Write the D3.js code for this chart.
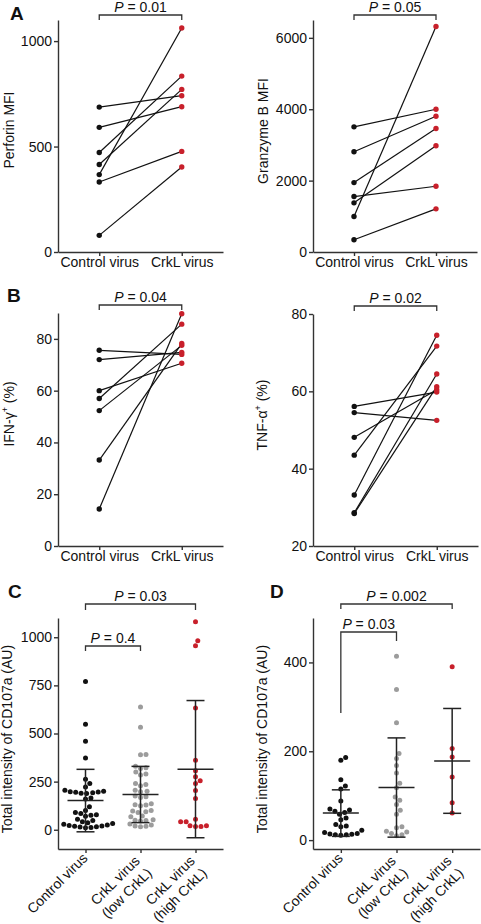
<!DOCTYPE html>
<html><head><meta charset="utf-8">
<script src="https://cdn.jsdelivr.net/npm/d3@7"></script>
<style>
body{margin:0;background:#fff;}
svg{display:block;font-family:"Liberation Sans",Arial,Helvetica,sans-serif;}
</style></head><body>
<svg id="chart" width="481" height="924"></svg>
<script>
// ---------- data ----------
const pairedCategories = ["Control virus", "CrkL virus"];
const perforinControl = [687, 591, 472, 415, 367, 332, 79];
const perforinCrkL    = [741, 689, 834, 771, 1062, 477, 403];
const granzymeControl = [3507, 2809, 1944, 1553, 1377, 995, 344];
const granzymeCrkL    = [4000, 3805, 3460, 1842, 2977, 6316, 1209];
const ifnControl = [75.6, 72.0, 60.0, 57.0, 52.3, 33.2, 14.3];
const ifnCrkL    = [74.0, 74.8, 70.6, 85.7, 77.5, 78.2, 89.7];
const tnfControl = [56.1, 54.5, 48.1, 43.5, 33.2, 28.6, 28.4];
const tnfCrkL    = [59.8, 52.5, 60.4, 71.7, 74.5, 64.5, 61.2];

const groupCategories = ["Control virus", "CrkL virus\n(low CrkL)", "CrkL virus\n(high CrkL)"];
const cControl = [770, 548, 460, 373, 262, 240, 222, 205, 200, 198, 196, 195, 192, 190, 188, 165, 160, 120, 100, 90, 85, 78, 75, 70, 55, 48, 42, 36, 32, 28, 25, 22, 20, 18, 16, 14, 12, 10];
const cLow = [638, 533, 391, 389, 330, 322, 318, 300, 290, 285, 240, 235, 228, 205, 200, 198, 175, 172, 168, 135, 130, 128, 125, 100, 97, 94, 90, 72, 68, 52, 50, 48, 45, 30, 25, 20, 18, 15];
const cHigh = [1080, 982, 956, 633, 361, 306, 275, 255, 240, 204, 162, 55, 41, 21, 17, 17, 21, 41];
const dControl = [186, 180, 136, 122, 115, 88, 70, 68, 65, 62, 58, 50, 46, 35, 32, 30, 22, 17, 15, 14, 13, 12, 12, 11];
const dLow = [414, 339, 264, 195, 184, 168, 151, 128, 118, 97, 90, 80, 67, 58, 30, 28, 20, 18, 15, 12, 10];
const dHigh = [390, 206, 187, 142, 84, 61];

const perforinTicks = [0, 500, 1000];
const granzymeTicks = [0, 2000, 4000, 6000];
const ifnTicks = [0, 20, 40, 60, 80];
const tnfTicks = [20, 40, 60, 80];
const cTicks = [0, 250, 500, 750, 1000];
const dTicks = [0, 200, 400];

// ---------- styling ----------
const BLACK = "#111", RED = "#c8202b", GRAY = "#9c9c9c", AXIS = "#333";
const FS = 14;
const svg = d3.select("#chart");

function styleAxis(g) {
  g.attr("font-family", null).attr("font-size", FS);
  g.select(".domain").attr("stroke", AXIS).attr("stroke-width", 1.4);
  g.selectAll(".tick line").attr("stroke", AXIS).attr("stroke-width", 1.4);
  g.selectAll(".tick text").attr("fill", BLACK).attr("font-size", FS);
}

function yTitle(x, y, parts) {
  const t = svg.append("text").attr("transform", `translate(${x},${y}) rotate(-90)`)
    .attr("text-anchor", "middle").attr("fill", BLACK).attr("font-size", FS);
  parts.forEach(p => {
    const s = t.append("tspan").text(p.t);
    if (p.sup) s.attr("font-size", 9).attr("dy", -6);
    if (p.after) s.attr("dy", 6);
  });
}

function pLabel(cx, baseline, val) {
  const t = svg.append("text").attr("x", cx).attr("y", baseline).attr("text-anchor", "middle")
    .attr("fill", BLACK).attr("font-size", FS);
  t.append("tspan").attr("font-style", "italic").text("P");
  t.append("tspan").text(" = " + val);
}

function bracket(x1, x2, top, leg1, leg2) {
  svg.append("path").attr("d", `M${x1},${leg1}V${top}H${x2}V${leg2}`)
    .attr("fill", "none").attr("stroke", AXIS).attr("stroke-width", 1.3);
}

function panelLetter(x, y, l) {
  svg.append("text").attr("x", x).attr("y", y).attr("fill", BLACK)
    .attr("font-size", 19).attr("font-weight", "bold").text(l);
}

const fmt = d3.format("d");

function pairedPanel(o) {
  const x = d3.scalePoint().domain(pairedCategories).range(o.xr).padding(0.5);
  const y = d3.scaleLinear().domain(o.domain).range(o.yr);
  const gy = svg.append("g").attr("transform", `translate(${o.xr[0]},0)`)
    .call(d3.axisLeft(y).tickValues(o.ticks).tickFormat(fmt).tickSize(4).tickPadding(2).tickSizeOuter(0));
  styleAxis(gy);
  const gx = svg.append("g").attr("transform", `translate(0,${o.yr[0]})`)
    .call(d3.axisBottom(x).tickSize(4).tickPadding(1).tickSizeOuter(0));
  styleAxis(gx);
  const x0 = x(pairedCategories[0]), x1 = x(pairedCategories[1]);
  o.ctrl.forEach((v, i) => {
    svg.append("line").attr("x1", x0).attr("y1", y(v)).attr("x2", x1).attr("y2", y(o.crkl[i]))
      .attr("stroke", BLACK).attr("stroke-width", 1.2);
  });
  svg.append("g").selectAll("circle").data(o.ctrl).join("circle")
    .attr("cx", x0).attr("cy", d => y(d)).attr("r", 2.7).attr("fill", BLACK);
  svg.append("g").selectAll("circle").data(o.crkl).join("circle")
    .attr("cx", x1).attr("cy", d => y(d)).attr("r", 2.7).attr("fill", RED);
  bracket(x0, x1, o.bTop, o.bTop + 5, o.bTop + 5);
  pLabel((x0 + x1) / 2, o.bTop - 3, o.p);
  yTitle(o.tx, o.ty, o.title);
}

function swarm(values, y, r) {
  const D = 2 * r + 0.5;
  const pts = values.map(v => ({ v, y: y(v) })).sort((a, b) => b.y - a.y);
  const placed = [];
  for (const p of pts) {
    const cands = [0];
    for (const q of placed) {
      const dy = Math.abs(q.y - p.y);
      if (dy < D) { const dx = Math.sqrt(D * D - dy * dy); cands.push(q.dx + dx, q.dx - dx); }
    }
    cands.sort((a, b) => Math.abs(a) - Math.abs(b));
    for (const c of cands) {
      if (placed.every(q => (q.dx - c) ** 2 + (q.y - p.y) ** 2 >= D * D - 1e-6)) { p.dx = c; break; }
    }
    placed.push(p);
  }
  return placed;
}

function groupPanel(o) {
  const x = d3.scalePoint().domain(groupCategories).range(o.xr).padding(0.5);
  const y = d3.scaleLinear().domain(o.domain).range(o.yr);
  const gy = svg.append("g").attr("transform", `translate(${o.xr[0]},0)`)
    .call(d3.axisLeft(y).tickValues(o.ticks).tickFormat(fmt).tickSize(4).tickPadding(2).tickSizeOuter(0));
  styleAxis(gy);
  const gx = svg.append("g").attr("transform", `translate(0,${o.yr[0]})`)
    .call(d3.axisBottom(x).tickSize(4).tickFormat(() => "").tickSizeOuter(0));
  styleAxis(gx);
  groupCategories.forEach(c => {
    const lines = c.split("\n");
    const g = svg.append("g").attr("transform", `translate(${x(c) + 3},${o.yr[0] + 10}) rotate(-45)`);
    lines.forEach((l, i) => {
      g.append("text").attr("x", lines.length > 1 ? -4 : 0).attr("y", i * 17)
        .attr("text-anchor", "end").attr("fill", BLACK).attr("font-size", FS).text(l);
    });
  });
  const colors = [BLACK, GRAY, RED];
  o.data.forEach((vals, gi) => {
    const cx = x(groupCategories[gi]);
    const pts = swarm(vals, y, 2.5);
    svg.append("g").selectAll("circle").data(pts).join("circle")
      .attr("cx", d => cx + d.dx).attr("cy", d => d.y).attr("r", 2.5).attr("fill", colors[gi]);
  });
  o.data.forEach((vals, gi) => {
    const cx = x(groupCategories[gi]);
    const m = d3.mean(vals), sd = d3.deviation(vals);
    const g = svg.append("g").attr("stroke", "#222").attr("stroke-width", 1.5);
    g.append("line").attr("x1", cx).attr("x2", cx).attr("y1", y(m - sd)).attr("y2", y(m + sd));
    g.append("line").attr("x1", cx - 9).attr("x2", cx + 9).attr("y1", y(m + sd)).attr("y2", y(m + sd));
    g.append("line").attr("x1", cx - 9).attr("x2", cx + 9).attr("y1", y(m - sd)).attr("y2", y(m - sd));
    g.append("line").attr("x1", cx - 18).attr("x2", cx + 18).attr("y1", y(m)).attr("y2", y(m));
  });
  o.brackets.forEach(b => {
    const xa = x(groupCategories[b.a]), xb = x(groupCategories[b.b]);
    bracket(xa, xb, b.top, b.leg1, b.leg2);
    pLabel((xa + xb) / 2, b.top - 3, b.p);
  });
  yTitle(o.tx, o.ty, o.title);
}

// ---------- panels ----------
pairedPanel({ xr: [58, 223], yr: [252, 20], domain: [0, 1100], ticks: perforinTicks,
  ctrl: perforinControl, crkl: perforinCrkL, bTop: 15, p: "0.01",
  tx: 14, ty: 130, title: [{ t: "Perforin MFI" }] });
pairedPanel({ xr: [313, 477], yr: [252, 20], domain: [0, 6500], ticks: granzymeTicks,
  ctrl: granzymeControl, crkl: granzymeCrkL, bTop: 15, p: "0.05",
  tx: 268, ty: 131, title: [{ t: "Granzyme B MFI" }] });
pairedPanel({ xr: [58, 223], yr: [546, 313], domain: [0, 90], ticks: ifnTicks,
  ctrl: ifnControl, crkl: ifnCrkL, bTop: 305, p: "0.04",
  tx: 14, ty: 414, title: [{ t: "IFN-γ" }, { t: "+", sup: true }, { t: " (%)", after: true }] });
pairedPanel({ xr: [313, 478], yr: [546, 314], domain: [20, 80], ticks: tnfTicks,
  ctrl: tnfControl, crkl: tnfCrkL, bTop: 306, p: "0.02",
  tx: 267, ty: 415, title: [{ t: "TNF-α" }, { t: "+", sup: true }, { t: " (%)", after: true }] });

groupPanel({ xr: [58, 223], yr: [849, 618], domain: [-100, 1100], ticks: cTicks,
  data: [cControl, cLow, cHigh], tx: 12, ty: 739,
  title: [{ t: "Total intensity of CD107a (AU)" }],
  brackets: [{ a: 0, b: 2, top: 604, leg1: 610, leg2: 610, p: "0.03" },
             { a: 0, b: 1, top: 646, leg1: 651, leg2: 651, p: "0.4" }] });
groupPanel({ xr: [313, 480], yr: [849, 618], domain: [-20, 500], ticks: dTicks,
  data: [dControl, dLow, dHigh], tx: 267, ty: 739,
  title: [{ t: "Total intensity of CD107a (AU)" }],
  brackets: [{ a: 0, b: 2, top: 604, leg1: 609, leg2: 609, p: "0.002" },
             { a: 0, b: 1, top: 632, leg1: 713, leg2: 641, p: "0.03" }] });

panelLetter(10, 20, "A");
panelLetter(7, 302, "B");
panelLetter(8, 598, "C");
panelLetter(270, 598, "D");
</script>
</body></html>
